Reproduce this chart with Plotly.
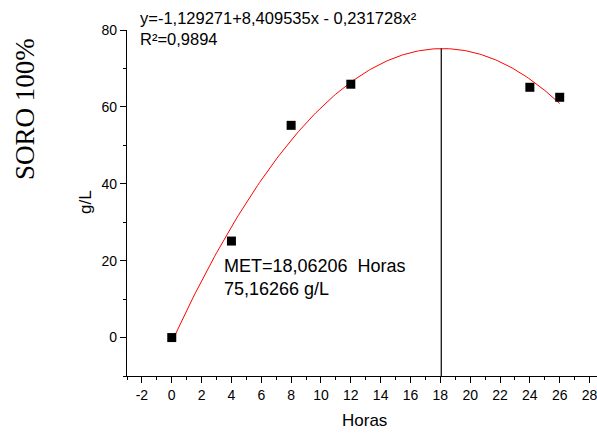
import numpy as np
import plotly.graph_objects as go

# Measured concentration over time
horas = [0, 4, 8, 12, 24, 26]
gl = [0.0, 25.1, 55.2, 65.9, 65.1, 62.5]

# Quadratic fit coefficients: y = a + b*x + c*x^2
a, b, c = -1.129271, 8.409535, -0.231728
r2 = 0.9894
met_x = 18.06206
met_y = 75.16266

fit_x = np.linspace(0, 26, 200)
fit_y = a + b * fit_x + c * fit_x ** 2

SANS = "Arial, Liberation Sans, sans-serif"
SERIF = "Times New Roman, Liberation Serif, serif"

fig = go.Figure()
fig.add_trace(go.Scatter(x=fit_x, y=fit_y, mode="lines",
                         line=dict(color="#ff0000", width=1), hoverinfo="skip"))
fig.add_trace(go.Scatter(x=horas, y=gl, mode="markers",
                         marker=dict(symbol="square", size=9, color="black",
                                     line=dict(width=0))))

# Vertical marker at the maximum of the fitted curve
fig.add_shape(type="line", x0=met_x, x1=met_x, y0=-10, y1=met_y,
              xref="x", yref="y", line=dict(color="black", width=1.2))

fig.update_layout(
    width=597, height=433,
    margin=dict(l=127, r=0, t=30, b=57),
    paper_bgcolor="white", plot_bgcolor="white",
    showlegend=False,
    font=dict(family=SANS, color="black"),
    xaxis=dict(range=[-3, 28.5], tickmode="array",
               tickvals=list(range(-2, 29, 2)),
               ticktext=[str(v) for v in range(-2, 29, 2)],
               ticklabeloverflow="allow",
               showline=True, linecolor="black", linewidth=1.2,
               ticks="outside", ticklen=6, tickwidth=1.2, tickcolor="black",
               minor=dict(tickmode="array", tickvals=list(range(-3, 29, 2)),
                          ticks="outside", ticklen=3, tickwidth=1.2, tickcolor="black"),
               showgrid=False, zeroline=False,
               tickfont=dict(family=SANS, size=14, color="black")),
    yaxis=dict(range=[-10, 80], tickmode="array",
               tickvals=[0, 20, 40, 60, 80],
               showline=True, linecolor="black", linewidth=1.2,
               ticks="outside", ticklen=6, tickwidth=1.2, tickcolor="black",
               minor=dict(tickmode="array", tickvals=[-10, 10, 30, 50, 70],
                          ticks="outside", ticklen=3, tickwidth=1.2, tickcolor="black"),
               showgrid=False, zeroline=False,
               tickfont=dict(family=SANS, size=14, color="black")),
)

def txt(s, x, y, size, xanchor="left", family=SANS, angle=0):
    fig.add_annotation(text=s, x=x, y=y, xref="paper", yref="paper",
                       xanchor=xanchor, yanchor="middle", showarrow=False,
                       textangle=angle, font=dict(family=family, size=size, color="black"))

W, H = 470.0, 346.0
def px(xp): return (xp - 127) / W
def py(yp): return (376 - yp) / H

txt("y=-1,129271+8,409535x - 0,231728x²", px(138), py(18), 16.5)
txt("R²=0,9894", px(138), py(39), 16.5)
txt("MET=18,06206&nbsp;&nbsp;Horas", px(222), py(266), 18)
txt("75,16266 g/L", px(222), py(289), 18)
txt("Horas", px(364), py(420), 17, xanchor="center")
txt("g/L", px(85), py(202), 17, xanchor="center", angle=-90)
txt("SORO 100%", px(25), py(109), 27, xanchor="center", family=SERIF, angle=-90)

fig.write_html("out.html")
